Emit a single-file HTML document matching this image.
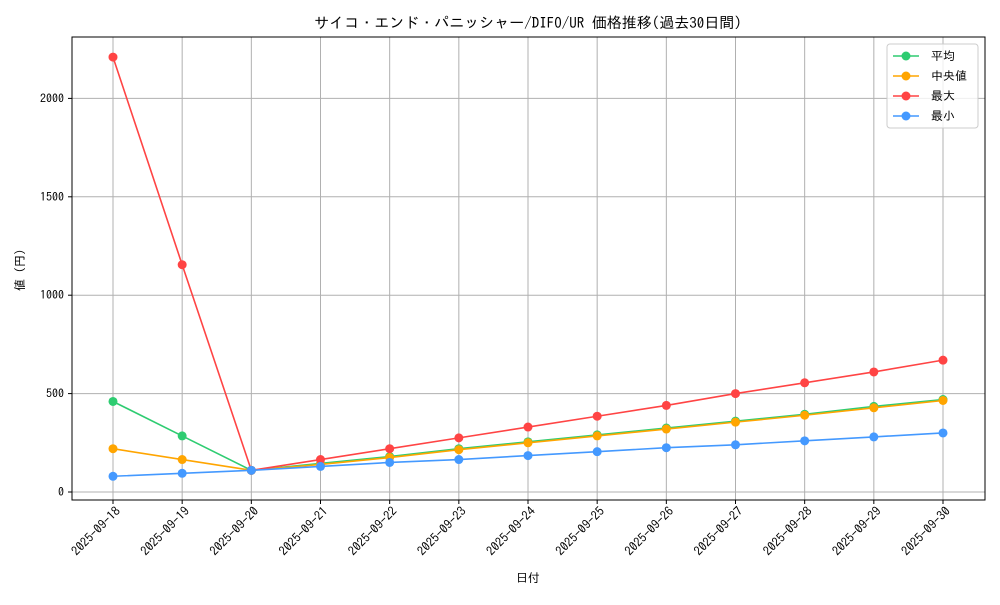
<!DOCTYPE html>
<html><head><meta charset="utf-8"><style>
body{margin:0;background:#fff;}
svg text{font-family:"IPAGothic","Noto Sans CJK JP",sans-serif;fill:#000;}
</style></head><body>
<svg id="chart" width="1000" height="600" xmlns="http://www.w3.org/2000/svg">
<rect width="1000" height="600" fill="#fff"/>
<text x="528" y="28" font-size="15" text-anchor="middle">サイコ・エンド・パニッシャー/DIFO/UR 価格推移(過去30日間)</text>
<g id="grid"></g>
<g id="axes"></g>
<g id="series"></g>
<rect x="72" y="37" width="913" height="463" fill="none" stroke="#000" stroke-width="1"/>
<text x="528" y="582" font-size="12" text-anchor="middle">日付</text>
<text x="24" y="270" font-size="12" text-anchor="middle" transform="rotate(-90 24 270)">値 (円)</text>
<g id="legend">
<rect x="887" y="44" width="91" height="84" rx="3" fill="#fff" fill-opacity="0.8" stroke="#ccc"/>
</g>
</svg>
<script>
const categories=["2025-09-18","2025-09-19","2025-09-20","2025-09-21","2025-09-22","2025-09-23","2025-09-24","2025-09-25","2025-09-26","2025-09-27","2025-09-28","2025-09-29","2025-09-30"];
const avgValues=[460,285,110,145,180,220,255,290,325,360,395,435,470];
const medianValues=[220,165,110,140,175,215,250,285,320,355,390,428,465];
const maxValues=[2210,1155,110,165,220,275,330,385,440,500,555,610,670];
const minValues=[80,95,110,130,150,165,185,205,225,240,260,280,300];
const yTicks=[0,500,1000,1500,2000];
const seriesNames=["平均","中央値","最大","最小"];
const NS="http://www.w3.org/2000/svg";
function xs(i){return 113+i*(943-113)/(categories.length-1);}
function ys(v){return 492-v*0.1968;}
function mk(tag,attrs,parent){const e=document.createElementNS(NS,tag);for(const k in attrs)e.setAttribute(k,attrs[k]);parent.appendChild(e);return e;}
const grid=document.getElementById('grid'),axes=document.getElementById('axes'),ser=document.getElementById('series'),leg=document.getElementById('legend');
categories.forEach((c,i)=>{
  const x=xs(i);
  const gl=mk('line',{x1:x,x2:x,y1:37,y2:500,stroke:'#b0b0b0','stroke-width':1},grid);
  
  
  mk('line',{x1:x,x2:x,y1:500,y2:504,stroke:'#000'},axes);
  const tx=x+8,ty=512;
  const t=mk('text',{x:tx,y:ty,'font-size':12.5,'text-anchor':'end',transform:`rotate(-45 ${tx} ${ty})`},axes);
  t.textContent=c;
  
  
});
yTicks.forEach(v=>{
  const y=ys(v);
  const gl=mk('line',{x1:72,x2:985,y1:y,y2:y,stroke:'#b0b0b0','stroke-width':1},grid);
  
  
  mk('line',{x1:68,x2:72,y1:y,y2:y,stroke:'#000'},axes);
  const t=mk('text',{x:64,y:y+4,'font-size':12,'text-anchor':'end'},axes);
  t.textContent=v;
  
  
});
const allSeries=[avgValues,medianValues,maxValues,minValues];
const colors=["#2ecc71","#ffa500","#ff4444","#4499ff"];
const names=["series-average","series-median","series-max","series-min"];
allSeries.forEach((vals,s)=>{
  const g=mk('g',{},ser);
  
  
  mk('polyline',{points:vals.map((v,i)=>xs(i)+','+ys(v)).join(' '),fill:'none',stroke:colors[s],'stroke-width':1.6},g);
  vals.forEach((v,i)=>{
    const c=mk('circle',{cx:xs(i),cy:ys(v),r:4.5,fill:colors[s]},g);
    
    
  });
  const ly=56+s*20;
  const le=mk('g',{},leg);
  
  
  mk('line',{x1:893,x2:919,y1:ly,y2:ly,stroke:colors[s],'stroke-width':1.6},le);
  mk('circle',{cx:906,cy:ly,r:4.5,fill:colors[s]},le);
  const t=mk('text',{x:931,y:ly+4,'font-size':12},le);
  t.textContent=(s===1?' ':'')+seriesNames[s];
});
</script>
</body></html>
